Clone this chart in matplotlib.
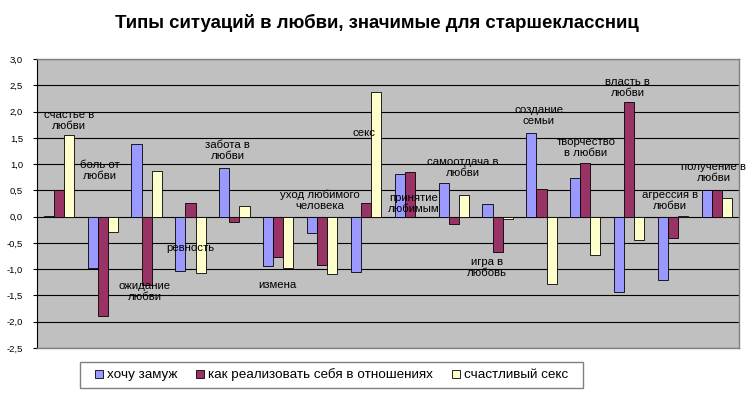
import matplotlib
matplotlib.use('Agg')
import matplotlib.pyplot as plt
import numpy as np
from matplotlib.patches import Rectangle
from matplotlib.ticker import FuncFormatter, MultipleLocator

plt.rcParams['font.family'] = ['Liberation Sans', 'DejaVu Sans']

# Situation categories (shown as free-floating labels inside the plot)
categories = [
    'счастье в\nлюбви', 'боль от\nлюбви', 'ожидание\nлюбви', 'ревность',
    'забота в\nлюбви', 'измена', 'уход любимого\nчеловека', 'секс',
    'принятие\nлюбимым', 'самоотдача в\nлюбви', 'игра в\nлюбовь',
    'создание\nсемьи', 'творчество\nв любви', 'власть в\nлюбви',
    'агрессия в\nлюбви', 'получение в\nлюбви',
]

series_names = ['хочу замуж', 'как реализовать себя в отношениях', 'счастливый секс']

want_marry = [0.02, -0.98, 1.39, -1.04, 0.93, -0.94, -0.31, -1.06,
              0.82, 0.64, 0.24, 1.60, 0.73, -1.43, -1.20, 0.51]
self_realize = [0.51, -1.90, -1.30, 0.26, -0.10, -0.77, -0.92, 0.26,
                0.85, -0.14, -0.68, 0.53, 1.02, 2.19, -0.41, 0.51]
happy_sex = [1.55, -0.29, 0.86, -1.07, 0.20, -0.98, -1.09, 2.37,
             -0.01, 0.42, -0.05, -1.29, -0.73, -0.44, 0.02, 0.36]

# where each category label sits (group index, value)
label_x = [0.23, 0.94, 1.96, 2.99, 3.85, 4.97, 5.95, 6.96,
           8.09, 9.20, 9.75, 10.94, 12.01, 12.96, 13.92, 14.92]
label_y = [1.83, 0.88, -1.43, -0.59, 1.26, -1.30, 0.31, 1.60,
           0.25, 0.94, -0.97, 1.93, 1.32, 2.46, 0.31, 0.84]

colors = ['#9999FF', '#993366', '#FFFFCC']

fig = plt.figure(figsize=(7.54, 3.94), dpi=100)
ax = fig.add_axes([0.049, 0.117, 0.931, 0.733])
ax.set_facecolor('#C0C0C0')

x = np.arange(len(categories))
width = 0.23
for i, (vals, col, name) in enumerate(zip([want_marry, self_realize, happy_sex], colors, series_names)):
    ax.bar(x + (i - 1) * width, vals, width, color=col, edgecolor='black',
           linewidth=0.6, label=name, zorder=3)

for lx, ly, txt in zip(label_x, label_y, categories):
    ax.text(lx, ly, txt, ha='center', va='center', fontsize=8.2,
            linespacing=1.15, zorder=4)

ax.set_xlim(-0.5, len(categories) - 0.5)
ax.set_ylim(-2.5, 3.0)
ax.yaxis.set_major_locator(MultipleLocator(0.5))
ax.yaxis.set_major_formatter(FuncFormatter(lambda v, p: f'{v:.1f}'.replace('.', ',')))
ax.tick_params(axis='y', labelsize=6.8, length=3, width=0.8, pad=7)
ax.set_xticks([])
ax.grid(axis='y', color='black', linewidth=0.8, zorder=0)
ax.set_axisbelow(True)
for side in ['top', 'right', 'bottom']:
    ax.spines[side].set_color('#808080')
    ax.spines[side].set_linewidth(1.0)
ax.spines['left'].set_color('black')
ax.spines['left'].set_linewidth(0.8)

fig.text(0.5, 0.942, 'Типы ситуаций в любви, значимые для старшеклассниц',
         ha='center', va='center', fontsize=13.4, fontweight='bold')

# legend frame drawn separately so its padding can match the original
fig.patches.append(Rectangle((80 / 754, 1 - 388 / 394), 503 / 754, 26 / 394,
                             transform=fig.transFigure, facecolor='white',
                             edgecolor='#808080', linewidth=1.0, zorder=1))
leg = fig.legend(loc='center', bbox_to_anchor=(331.5 / 754, 1 - 375 / 394), ncol=3,
                 fontsize=9.7, frameon=False, handlelength=0.55,
                 handleheight=0.55, handletextpad=0.3, columnspacing=1.45,
                 borderpad=0.3)
leg.set_zorder(2)

plt.savefig('out.png', dpi=100)
plt.close()
